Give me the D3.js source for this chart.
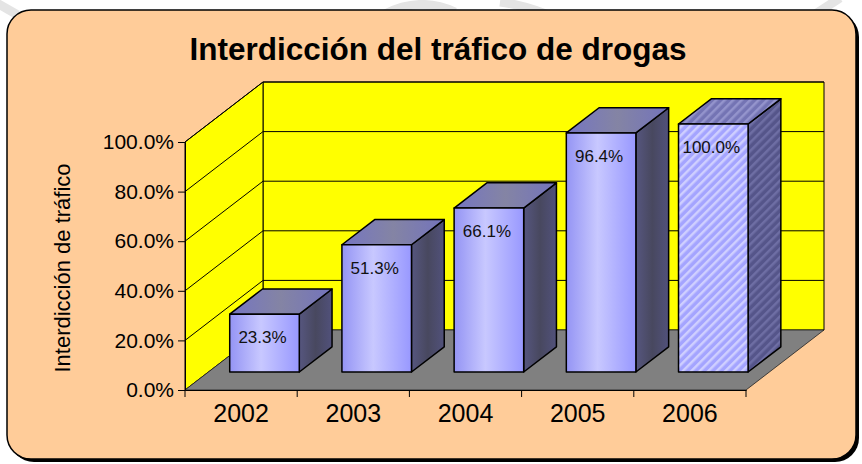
<!DOCTYPE html>
<html>
<head>
<meta charset="utf-8">
<script src="https://cdn.jsdelivr.net/npm/d3@7"></script>
<style>
  body { margin: 0; background: #fff; }
  text { font-family: Arial, "Liberation Sans", sans-serif; }
</style>
</head>
<body>
<script>
// chart data
var years = ["2002", "2003", "2004", "2005", "2006"];
var values = [0.233, 0.513, 0.661, 0.964, 1.0];
var yTicks = [0, 0.2, 0.4, 0.6, 0.8, 1.0];
var title = "Interdicción del tráfico de drogas";
var yTitle = "Interdicción de tráfico";

var w = 862, h = 464;
var DX = 78, DY = 60;        // depth offset of the back wall
var z0 = 0.3, z1 = 0.72;     // bar depth range (0 = front, 1 = back)

var svg = d3.select("body").append("svg")
  .attr("width", w)
  .attr("height", h);

var defs = svg.append("defs");

function grad(id, stops) {
  var g = defs.append("linearGradient").attr("id", id)
    .attr("x1", 0).attr("x2", 1).attr("y1", 0).attr("y2", 0);
  stops.forEach(s => g.append("stop").attr("offset", s[0]).attr("stop-color", s[1]));
}
grad("gFront", [[0, "#9494f4"], [0.45, "#c8c8ff"], [1, "#9898ff"]]);
grad("gTop", [[0, "#7575c2"], [0.5, "#8484a4"], [1, "#7373bc"]]);
grad("gSide", [[0, "#56567f"], [0.5, "#48485f"], [1, "#51517b"]]);

function stripes(id, base, line) {
  var p = defs.append("pattern").attr("id", id)
    .attr("patternUnits", "userSpaceOnUse")
    .attr("width", 6).attr("height", 6)
    .attr("patternTransform", "rotate(45)");
  p.append("rect").attr("width", 6).attr("height", 6).attr("fill", base);
  p.append("rect").attr("width", 2.5).attr("height", 6).attr("fill", line);
}
stripes("pFront", "#a4a4ff", "#cfcfff");
stripes("pTop", "#7474b4", "#9494cc");
stripes("pSide", "#55558a", "#6e6ea4");

// faint watermark behind the frame
svg.append("g").attr("fill", "none").attr("stroke", "#e4e4e4").attr("stroke-width", 9)
  .selectAll("path")
  .data(["M-5,2 L30,22", "M385,14 Q420,-4 455,12", "M500,2 Q530,6 560,20", "M800,24 L840,-2"])
  .enter().append("path").attr("d", d => d);

// frame with shadow
svg.append("rect")
  .attr("x", 10).attr("y", 13).attr("width", 849).attr("height", 449)
  .attr("rx", 24).attr("fill", "#000");
svg.append("rect")
  .attr("x", 7).attr("y", 10).attr("width", 849).attr("height", 449)
  .attr("rx", 24).attr("fill", "#ffcc99")
  .attr("stroke", "#000").attr("stroke-width", 1.5);

svg.append("text")
  .attr("x", 438).attr("y", 60)
  .attr("text-anchor", "middle")
  .attr("font-size", 31.5).attr("font-weight", "bold")
  .text(title);

var x = d3.scaleBand().domain(years).range([185, 746])
  .paddingInner(0.38).paddingOuter(0.19);
var y = d3.scaleLinear().domain([0, 1]).range([390, 142]);

var x0 = x.range()[0], x1 = x.range()[1];
var P = (px, v, z) => [px + z * DX, y(v) - z * DY];
var line = d3.line();

// walls and floor
svg.append("path")
  .attr("d", line([P(x0, 0, 1), P(x1, 0, 1), P(x1, 1, 1), P(x0, 1, 1)]) + "Z")
  .attr("fill", "#ffff00").attr("stroke", "#000").attr("stroke-width", 1);
svg.append("path")
  .attr("d", line([P(x0, 0, 0), P(x0, 0, 1), P(x0, 1, 1), P(x0, 1, 0)]) + "Z")
  .attr("fill", "#ffff00").attr("stroke", "#000").attr("stroke-width", 1);
svg.append("path")
  .attr("d", line([P(x0, 0, 0), P(x1, 0, 0), P(x1, 0, 1), P(x0, 0, 1)]) + "Z")
  .attr("fill", "#808080").attr("stroke", "#222").attr("stroke-width", 0.8);

// gridlines
svg.selectAll(".grid")
  .data(yTicks.filter(d => d > 0))
  .enter().append("path")
  .attr("d", d => line([P(x0, d, 0), P(x0, d, 1), P(x1, d, 1)]))
  .attr("fill", "none").attr("stroke", "#000").attr("stroke-width", 1);

// bars
var bars = svg.selectAll(".bar")
  .data(years.map((yr, i) => ({ yr: yr, v: values[i], last: i === years.length - 1 })))
  .enter().append("g");

bars.each(function(d) {
  var g = d3.select(this);
  var l = x(d.yr), r = x(d.yr) + x.bandwidth();
  var front = [P(l, 0, z0), P(r, 0, z0), P(r, d.v, z0), P(l, d.v, z0)];
  var side = [P(r, 0, z0), P(r, 0, z1), P(r, d.v, z1), P(r, d.v, z0)];
  var top = [P(l, d.v, z0), P(r, d.v, z0), P(r, d.v, z1), P(l, d.v, z1)];
  g.append("path").attr("d", line(side) + "Z")
    .attr("fill", d.last ? "url(#pSide)" : "url(#gSide)");
  g.append("path").attr("d", line(top) + "Z")
    .attr("fill", d.last ? "url(#pTop)" : "url(#gTop)");
  g.append("path").attr("d", line(front) + "Z")
    .attr("fill", d.last ? "url(#pFront)" : "url(#gFront)");
  g.selectAll("path").attr("stroke", "#000").attr("stroke-width", 1.5)
    .attr("stroke-linejoin", "round");
  g.append("text")
    .attr("x", (l + r) / 2 + z0 * DX - 2)
    .attr("y", y(d.v) - z0 * DY + 29)
    .attr("text-anchor", "middle")
    .attr("font-size", 17)
    .attr("fill", "#111")
    .text(d3.format(".1%")(d.v));
});

// axes
var yAxis = svg.append("g")
  .attr("transform", "translate(" + x0 + ",0)")
  .call(d3.axisLeft(y).tickValues(yTicks).tickFormat(d3.format(".1%")).tickSize(7).tickPadding(4));
yAxis.selectAll("text").attr("font-size", 21).attr("fill", "#000")
  .attr("font-family", "Arial, 'Liberation Sans', sans-serif");
yAxis.selectAll("line, path").attr("stroke", "#000");

var xAxis = svg.append("g")
  .attr("transform", "translate(0," + y(0) + ")")
  .call(d3.axisBottom(x).tickSize(0).tickPadding(14));
xAxis.selectAll("text").attr("font-size", 25).attr("fill", "#000")
  .attr("font-family", "Arial, 'Liberation Sans', sans-serif");
xAxis.select(".domain").attr("stroke", "#000");

// category separators on the x axis
svg.selectAll(".xtick")
  .data(d3.range(years.length + 1))
  .enter().append("line")
  .attr("x1", i => x0 + i * x.step()).attr("x2", i => x0 + i * x.step())
  .attr("y1", y(0)).attr("y2", y(0) + 7)
  .attr("stroke", "#000");

svg.append("text")
  .attr("transform", "translate(70," + 268 + ") rotate(-90)")
  .attr("text-anchor", "middle")
  .attr("font-size", 22)
  .text(yTitle);
</script>
</body>
</html>
